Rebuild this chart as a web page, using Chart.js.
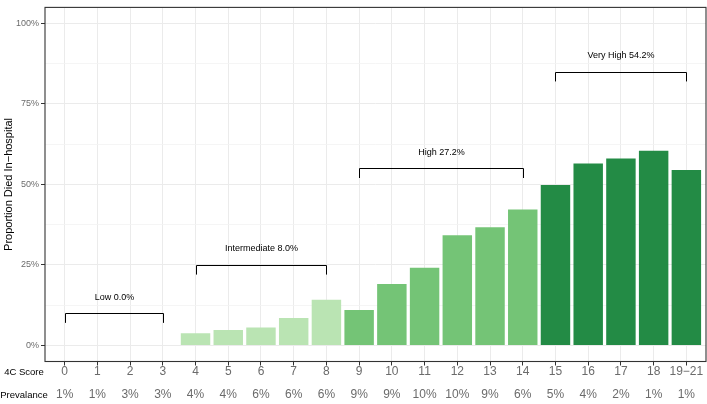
<!DOCTYPE html>
<html>
<head>
<meta charset="utf-8">
<script src="https://cdn.jsdelivr.net/npm/chart.js@4.4.1/dist/chart.umd.min.js"></script>
<style>
  html, body { margin: 0; padding: 0; background: #fff; }
  #wrap { width: 707px; height: 404px; }
</style>
</head>
<body>
<div id="wrap"><canvas id="grafico"></canvas></div>
<script>
// dados
const scores = ['0', '1', '2', '3', '4', '5', '6', '7', '8', '9', '10', '11', '12', '13', '14', '15', '16', '17', '18', '19\u221221'];
const prevalence = ['1%', '1%', '3%', '3%', '4%', '4%', '6%', '6%', '6%', '9%', '9%', '10%', '10%', '9%', '6%', '5%', '4%', '2%', '1%', '1%'];
const died = [0, 0, 0, 0, 3.8, 4.8, 5.6, 8.5, 14.2, 11.0, 19.1, 24.1, 34.2, 36.7, 42.2, 49.8, 56.5, 58.1, 60.5, 54.5];
const riskGroup = [0, 0, 0, 0, 1, 1, 1, 1, 1, 2, 2, 2, 2, 2, 2, 3, 3, 3, 3, 3];
const groupColors = ['#bae4b3', '#bae4b3', '#74c476', '#238b45'];

// grupos de risco (colchetes)
const bracketLabels = ['Low 0.0%', 'Intermediate 8.0%', 'High 27.2%', 'Very High 54.2%'];
const bracketStart = [0, 4, 9, 15];
const bracketEnd = [3, 8, 14, 19];
const bracketLevel = [10, 25, 55, 85];

const yTicks = [0, 12.5, 25, 37.5, 50, 62.5, 75, 87.5, 100];
const fontFam = 'Liberation Sans, Arial, Helvetica, sans-serif';

// plugin para moldura, colchetes e linha de prevalência
const extras = {
    id: 'extras',
    afterDatasetsDraw(chart) {
        const { ctx, chartArea, scales } = chart;
        const x = scales.x, y = scales.y;
        ctx.save();

        // colchetes
        ctx.strokeStyle = '#000';
        ctx.lineWidth = 1;
        ctx.fillStyle = '#000';
        ctx.font = '9px ' + fontFam;
        ctx.textAlign = 'center';
        ctx.textBaseline = 'middle';
        for (let i = 0; i < bracketLabels.length; i++) {
            const x0 = Math.round(x.getPixelForValue(bracketStart[i])) + 0.5;
            const x1 = Math.round(x.getPixelForValue(bracketEnd[i])) + 0.5;
            const yl = Math.round(y.getPixelForValue(bracketLevel[i])) + 0.5;
            const yt = y.getPixelForValue(bracketLevel[i] - 3);
            ctx.beginPath();
            ctx.moveTo(x0, yt);
            ctx.lineTo(x0, yl);
            ctx.lineTo(x1, yl);
            ctx.lineTo(x1, yt);
            ctx.stroke();
            ctx.fillText(bracketLabels[i], (x0 + x1) / 2, y.getPixelForValue(bracketLevel[i] + 5));
        }

        // moldura do painel
        ctx.strokeStyle = '#333';
        ctx.lineWidth = 1.1;
        ctx.strokeRect(chartArea.left, chartArea.top, chartArea.right - chartArea.left, chartArea.bottom - chartArea.top);

        // linha de prevalência
        ctx.font = '12px ' + fontFam;
        ctx.fillStyle = '#6b6b6b';
        prevalence.forEach((p, i) => {
            ctx.fillText(p, x.getPixelForValue(i), 395);
        });

        // rótulos das linhas
        ctx.fillStyle = '#000';
        ctx.font = '9.5px ' + fontFam;
        ctx.fillText('4C Score', 24, 372);
        ctx.fillText('Prevalance', 24, 395);
        ctx.restore();
    }
};

const ctx = document.getElementById('grafico').getContext('2d');
new Chart(ctx, {
    type: 'bar',
    data: {
        datasets: [{
            data: died.map((v, i) => ({ x: i, y: v })),
            backgroundColor: riskGroup.map(g => groupColors[g]),
            borderWidth: 0,
            barPercentage: 0.9,
            categoryPercentage: 1
        }]
    },
    options: {
        responsive: true,
        maintainAspectRatio: false,
        animation: false,
        layout: { padding: { top: 2, right: 1, left: 0, bottom: 0 } },
        plugins: {
            legend: { display: false },
            tooltip: { enabled: false }
        },
        scales: {
            x: {
                type: 'linear',
                min: -0.6,
                max: 19.6,
                offset: false,
                afterBuildTicks: (scale) => {
                    scale.ticks = scores.map((s, i) => ({ value: i }));
                },
                afterFit: (scale) => { scale.height = 42.5; },
                grid: {
                    offset: false,
                    color: '#ebebeb',
                    lineWidth: 1,
                    tickLength: 4,
                    tickColor: '#333',
                    drawTicks: true
                },
                border: { display: false },
                ticks: {
                    autoSkip: false,
                    maxRotation: 0,
                    padding: 0,
                    color: '#6b6b6b',
                    font: { family: fontFam, size: 12, lineHeight: 1 },
                    callback: (v) => scores[v]
                }
            },
            y: {
                min: -5,
                max: 105,
                afterBuildTicks: (scale) => {
                    scale.ticks = yTicks.map(v => ({ value: v }));
                },
                afterFit: (scale) => { scale.width = 45; },
                grid: {
                    color: (c) => (c.tick && c.tick.value % 25 === 0) ? '#ebebeb' : '#f3f3f3',
                    lineWidth: (c) => (c.tick && c.tick.value % 25 === 0) ? 1 : 0.8,
                    tickLength: 4,
                    tickColor: (c) => (c.tick && c.tick.value % 25 === 0) ? '#333' : 'rgba(0,0,0,0)'
                },
                border: { display: false },
                title: {
                    display: true,
                    text: 'Proportion Died In\u2212hospital',
                    color: '#000',
                    font: { family: fontFam, size: 11 },
                    padding: { top: 2, bottom: 2 }
                },
                ticks: {
                    padding: 2,
                    color: '#6b6b6b',
                    font: { family: fontFam, size: 9 },
                    callback: (v) => (v % 25 === 0) ? v + '%' : ''
                }
            }
        }
    },
    plugins: [extras]
});
</script>
</body>
</html>
